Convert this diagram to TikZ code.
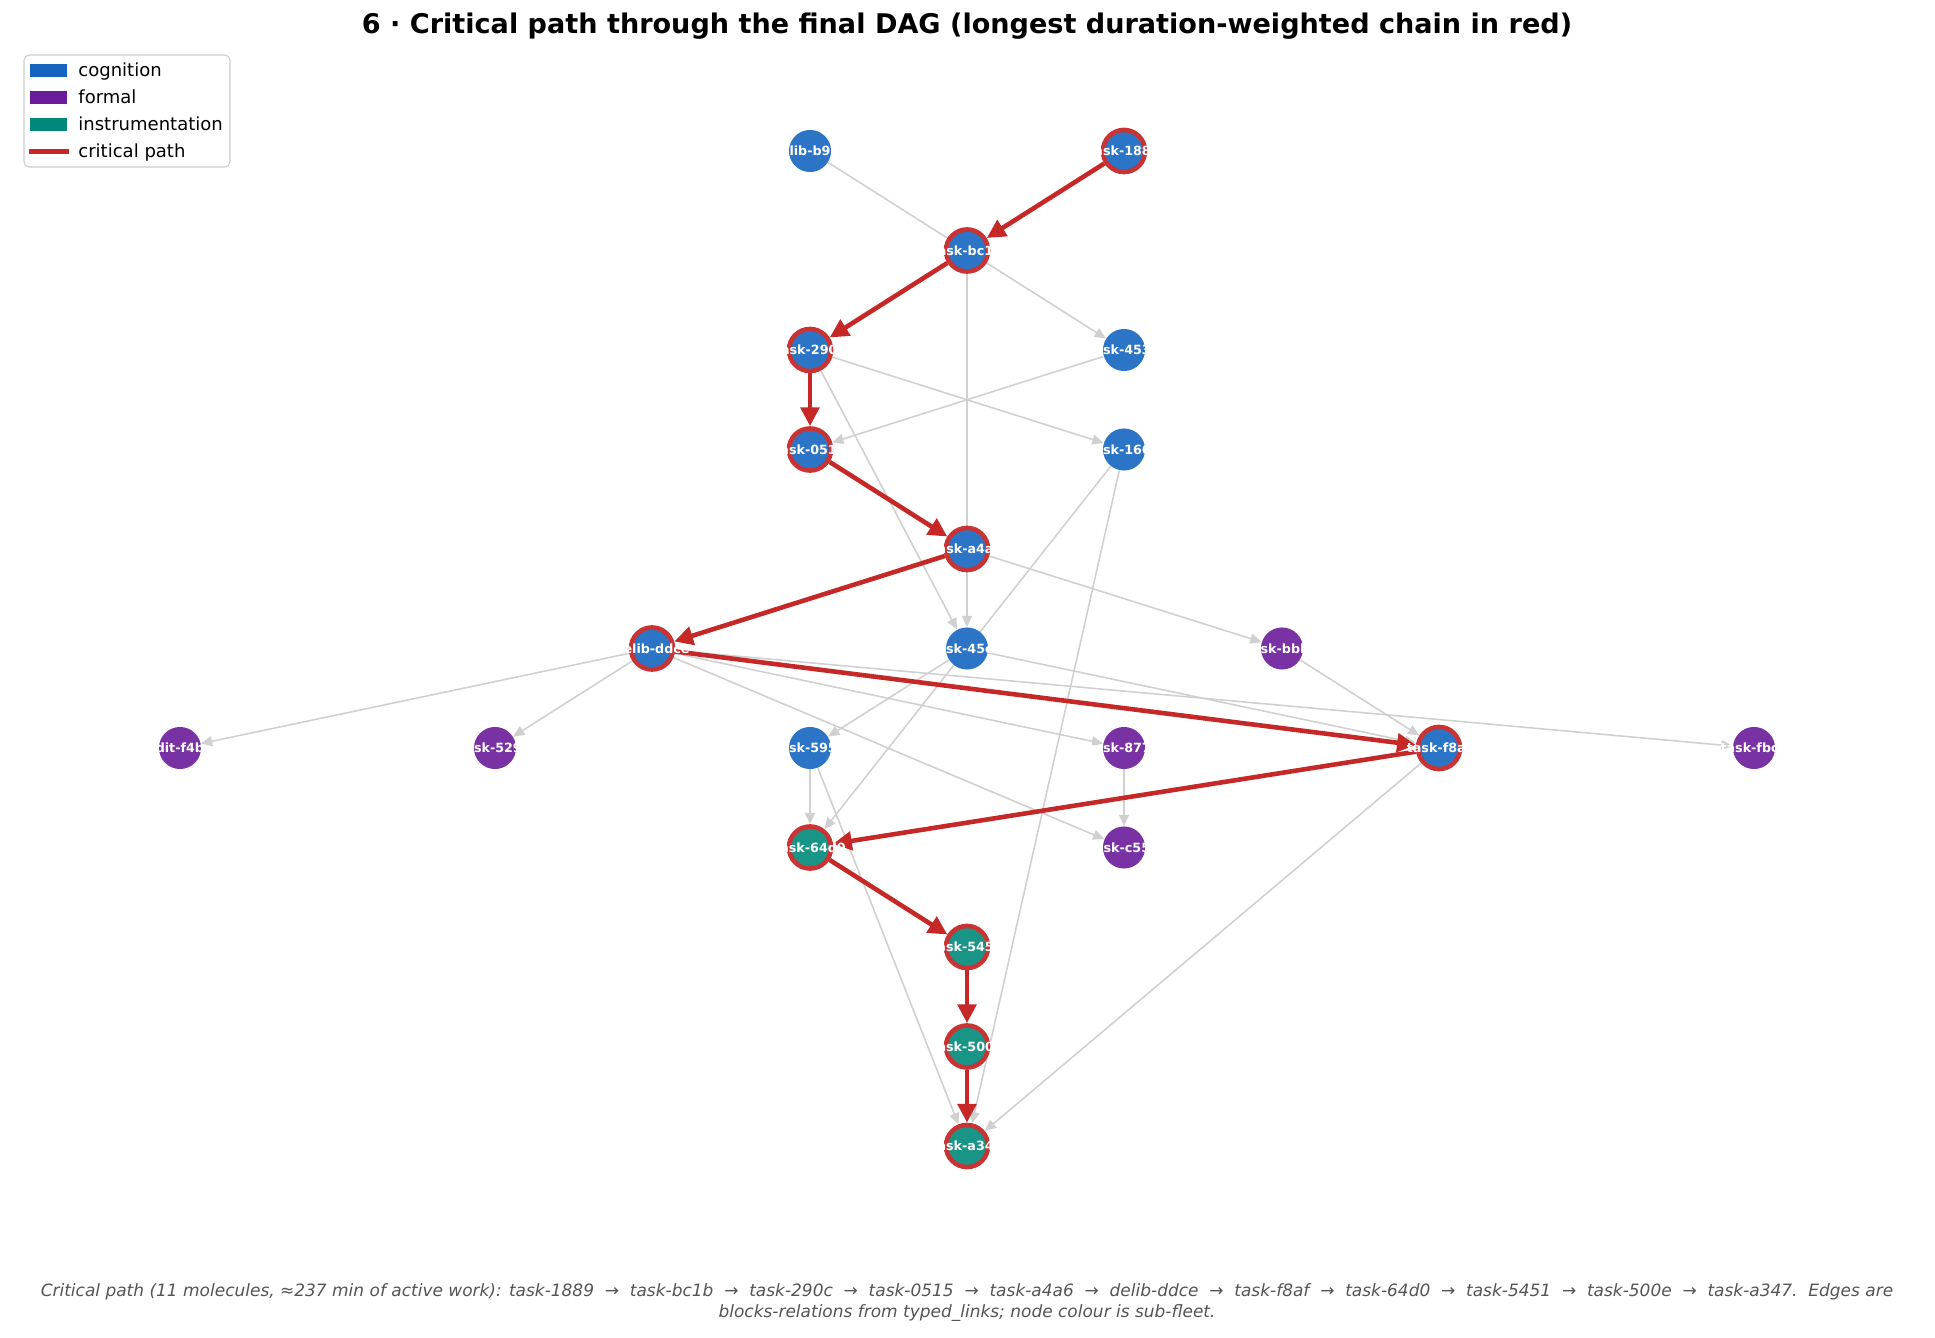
\documentclass[tikz,border=0pt]{standalone}
\usepackage{fontspec}
\setmainfont{DejaVu Sans}
\usepackage{xcolor}
\usepackage{tikz}
\usetikzlibrary{arrows.meta,backgrounds}
\definecolor{cogBlue}{HTML}{1565C0}
\definecolor{fmlPurple}{HTML}{6A1B9A}
\definecolor{insTeal}{HTML}{00897B}
\definecolor{critRed}{HTML}{C62828}
\definecolor{edgeGray}{HTML}{D0D0D0}
\definecolor{noteGray}{HTML}{555555}
\newcommand{\nodelabel}[1]{\makebox[0pt][c]{#1}}
\newcommand{\pathsep}{\ \ →\ \ }

\begin{document}
\begin{tikzpicture}[x=0.48pt, y=-0.48pt,
  dagnode/.style={circle, inner sep=0pt, minimum size=20.2pt, text=white,
                  font=\bfseries\fontsize{6.1}{7}\selectfont},
  cog/.style={dagnode, fill=cogBlue!90!white},
  fml/.style={dagnode, fill=fmlPurple!90!white},
  ins/.style={dagnode, fill=insTeal!90!white},
  crit/.style={draw=critRed!95!white, line width=2.2pt},
  dagedge/.style={edgeGray, line width=0.75pt, -{Triangle[length=5.4pt,width=4.8pt]}},
  critedge/.style={critRed, line width=2.2pt, -{Triangle[length=9pt,width=8.8pt]}},
  lgtext/.style={anchor=base west, inner sep=0pt, font=\fontsize{8.65}{10}\selectfont}]
\useasboundingbox (0,0) rectangle (1935,1338);
% ---------- title ----------
\node[font=\bfseries\fontsize{13}{15}\selectfont] (title) at (967,26)
  {6 · Critical path through the final DAG (longest duration-weighted chain in red)};
% ---------- legend ----------
\draw[rounded corners=2.5pt, draw=black!20, fill=white, line width=0.5pt] (24,55) rectangle (230,167);
\fill[cogBlue]   (30,64)  rectangle (67,77);
\fill[fmlPurple] (30,91)  rectangle (67,104);
\fill[insTeal]   (30,118) rectangle (67,131);
\draw[critRed, line width=2.4pt] (29,151.5) -- (69,151.5);
\node[lgtext] (lgcog)  at (78,77)  {cognition};
\node[lgtext] (lgfml)  at (78,104) {formal};
\node[lgtext] (lgins)  at (78,131) {instrumentation};
\node[lgtext] (lgcrit) at (78,158) {critical path};
% ---------- nodes, layer by layer ----------
\node[cog]      (b9)    at (810,151)    {\nodelabel{delib-b9\phantom{00}}};
\node[cog,crit] (n1889) at (1124,151)   {\nodelabel{task-1889}};
\node[cog,crit] (bc1b)  at (967,250.5)  {\nodelabel{task-bc1b}};
\node[cog,crit] (n290c) at (810,350)    {\nodelabel{task-290c}};
\node[cog]      (n453)  at (1124,350)   {\nodelabel{task-453\phantom{0}}};
\node[cog,crit] (n0515) at (810,449.5)  {\nodelabel{task-0515}};
\node[cog]      (n166)  at (1124,449.5) {\nodelabel{task-166\phantom{0}}};
\node[cog,crit] (a4a6)  at (967,549)    {\nodelabel{task-a4a6}};
\node[cog,crit] (ddce)  at (652,648.5)  {\nodelabel{delib-ddce}};
\node[cog]      (n45e)  at (967,648.5)  {\nodelabel{task-45e\phantom{0}}};
\node[fml]      (bbb)   at (1282,648.5) {\nodelabel{task-bbb\phantom{0}}};
\node[fml]      (f4b)   at (180,748)    {\nodelabel{edit-f4b\phantom{0}}};
\node[fml]      (n529)  at (495,748)    {\nodelabel{task-529\phantom{0}}};
\node[cog]      (n595)  at (810,748)    {\nodelabel{task-595\phantom{0}}};
\node[fml]      (n877)  at (1124,748)   {\nodelabel{task-877\phantom{0}}};
\node[cog,crit] (f8af)  at (1439,748)   {\nodelabel{task-f8af}};
\node[fml]      (fbc)   at (1754,748)   {\nodelabel{task-fbc\phantom{0}}};
\node[ins,crit] (n64d0) at (810,847.5)  {\nodelabel{task-64d0}};
\node[fml]      (c55)   at (1124,847.5) {\nodelabel{task-c55\phantom{0}}};
\node[ins,crit] (n5451) at (967,947)    {\nodelabel{task-5451}};
\node[ins,crit] (n500e) at (967,1046.5) {\nodelabel{task-500e}};
\node[ins,crit] (a347)  at (967,1146)   {\nodelabel{task-a347}};
% ---------- edges behind the nodes ----------
\begin{scope}[on background layer]
  \fill[white] (0,0) rectangle (1935,1338);
  \foreach \a/\b in {b9/n453, bc1b/n45e, n290c/n166, n290c/n45e, n453/n0515,
                     n166/n64d0, n166/a347, a4a6/bbb, ddce/f4b, ddce/n529,
                     ddce/n877, ddce/c55, ddce/fbc, n45e/n595, n45e/f8af,
                     bbb/f8af, n595/n64d0, n595/a347, n877/c55, f8af/a347}
    \draw[dagedge] (\a) -- (\b);
  % critical path
  \foreach \a/\b in {n1889/bc1b, bc1b/n290c, n290c/n0515, n0515/a4a6, a4a6/ddce,
                     ddce/f8af, f8af/n64d0, n64d0/n5451, n5451/n500e, n500e/a347}
    \draw[critedge] (\a) -- (\b);
\end{scope}
% ---------- caption ----------
\node[align=center, text=noteGray, font=\itshape\fontsize{8.15}{10.1}\selectfont] (note) at (967,1302.5)
  {Critical path (11 molecules, ≈237 min of active work): task-1889\pathsep task-bc1b\pathsep task-290c\pathsep task-0515\pathsep task-a4a6\pathsep delib-ddce\pathsep task-f8af\pathsep task-64d0\pathsep task-5451\pathsep task-500e\pathsep task-a347.\ \ Edges are\\
   blocks-relations from typed\_links; node colour is sub-fleet.};
\end{tikzpicture}
\end{document}
